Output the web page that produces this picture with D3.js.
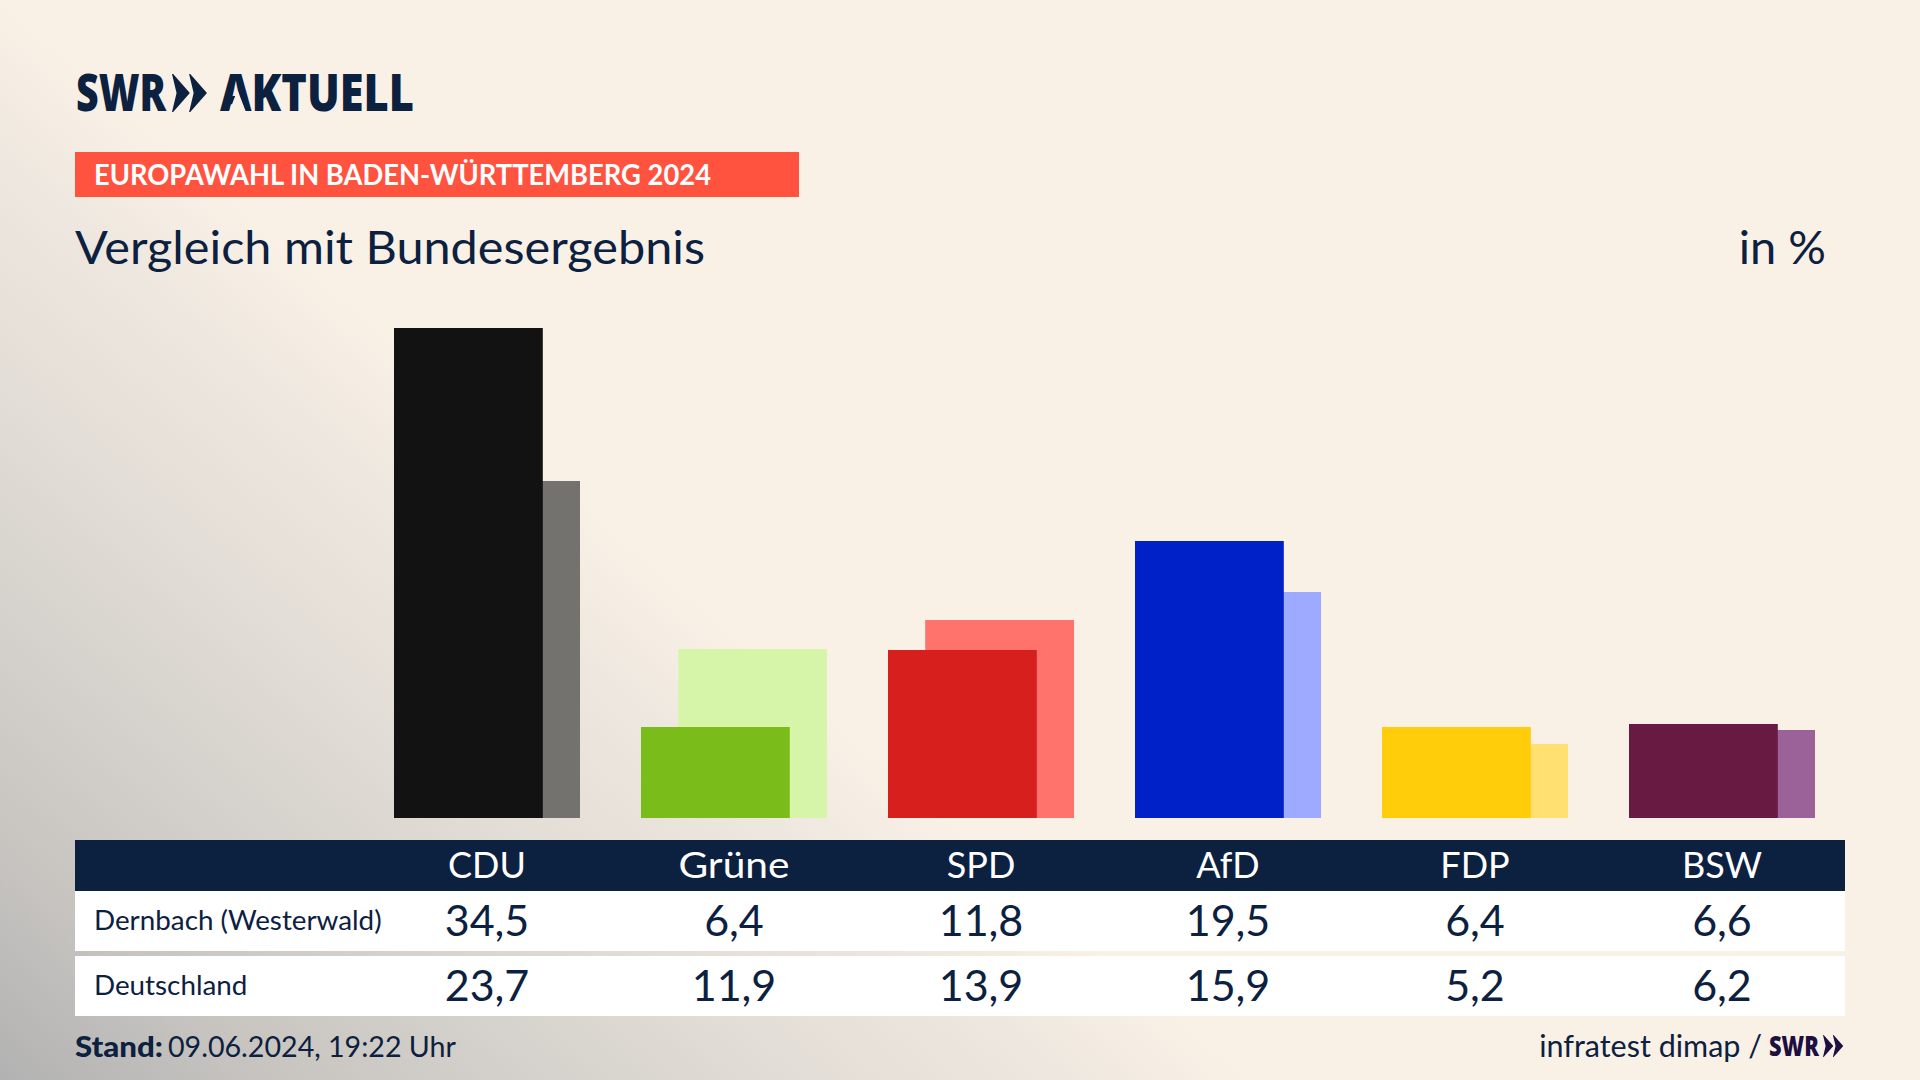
<!DOCTYPE html>
<html>
<head>
<meta charset="utf-8">
<script src="https://cdn.jsdelivr.net/npm/d3@7"></script>
<style>
  html, body { margin: 0; padding: 0; background: #f9f1e6; }
  svg { display: block; }
  text { font-family: Lato, "Noto Sans", sans-serif; fill: #0c203f; }
</style>
</head>
<body>
<div id="graph"></div>
<script>
const parties = ['CDU', 'Grüne', 'SPD', 'AfD', 'FDP', 'BSW'];
const dernbach = [34.5, 6.4, 11.8, 19.5, 6.4, 6.6];
const deutschland = [23.7, 11.9, 13.9, 15.9, 5.2, 6.2];
const rowNames = ['Dernbach (Westerwald)', 'Deutschland'];
const mainColors = ['#121212', '#7abd1a', '#d71f1d', '#0021c8', '#ffcd0a', '#691a42'];
const lightColors = ['#73726f', '#d6f5a8', '#ff736c', '#9daaff', '#ffe070', '#9b6199'];

const w = 1920;
const h = 1080;
const navy = '#0c203f';
const logoFont = '"Noto Sans", Lato, sans-serif';

const svg = d3.select('#graph').append('svg').attr('width', w).attr('height', h);

// background, diagonal fade from the lower left corner
const bg = svg.append('defs').append('linearGradient').attr('id', 'bg')
  .attr('gradientUnits', 'userSpaceOnUse')
  .attr('x1', 0).attr('y1', 1080).attr('x2', 534).attr('y2', 461.5);
[[0, '#b2b2b2'], [0.23, '#c8c5c1'], [0.42, '#d4d0cb'], [0.62, '#e1dcd5'], [0.85, '#eee7df'], [1, '#f9f1e6']]
  .forEach(s => bg.append('stop').attr('offset', s[0]).attr('stop-color', s[1]));
svg.append('rect').attr('width', w).attr('height', h).attr('fill', 'url(#bg)');

// the two arrows of the SWR logo
const chevrons = (g, x, y, s) => {
  [0, 0.45].forEach(o => {
    const x0 = x + o * s;
    g.append('path')
      .attr('d', `M${x0},${y} L${x0 + 0.03 * s},${y} L${x0 + 0.47 * s},${y + 0.5 * s} L${x0 + 0.03 * s},${y + s} L${x0},${y + s} L${x0 + 0.12 * s},${y + 0.5 * s} Z`);
  });
};

// header
svg.append('text').attr('x', 76).attr('y', 111).attr('font-size', 51).attr('font-weight', 900)
  .attr('textLength', 90).attr('lengthAdjust', 'spacingAndGlyphs')
  .style('font-family', logoFont).text('SWR');
chevrons(svg.append('g').attr('fill', navy), 172, 74, 38);
svg.append('text').attr('x', 220).attr('y', 111).attr('font-size', 51).attr('font-weight', 900)
  .attr('textLength', 194).attr('lengthAdjust', 'spacingAndGlyphs')
  .style('font-family', logoFont).text('AKTUELL');
// logo A has no crossbar
svg.append('path').attr('d', 'M237.5,90 L229,112 L246,112 Z').attr('fill', '#f9f1e6');

svg.append('rect').attr('x', 75).attr('y', 152).attr('width', 724).attr('height', 45).attr('fill', '#ff523f');
svg.append('text').attr('x', 94).attr('y', 185).attr('font-size', 28).attr('font-weight', 700)
  .attr('textLength', 617).attr('lengthAdjust', 'spacingAndGlyphs')
  .style('fill', '#fff').text('EUROPAWAHL IN BADEN-WÜRTTEMBERG 2024');
svg.append('text').attr('x', 75).attr('y', 264).attr('font-size', 47)
  .attr('textLength', 630).attr('lengthAdjust', 'spacingAndGlyphs').text('Vergleich mit Bundesergebnis');
svg.append('text').attr('x', 1826).attr('y', 264).attr('font-size', 47).attr('text-anchor', 'end').text('in %');

// bars
const x = d3.scaleBand().domain(parties).range([394, 1815]).paddingInner(0.247);
const y = d3.scaleLinear().domain([0, d3.max(dernbach)]).rangeRound([818, 327.5]);
const barW = x.bandwidth() * 0.8;
const idx = d => parties.indexOf(d);

svg.append('g').selectAll('rect').data(parties).enter().append('rect')
  .attr('x', d => x(d) + x.bandwidth() - barW)
  .attr('y', d => y(deutschland[idx(d)]))
  .attr('width', barW)
  .attr('height', d => y(0) - y(deutschland[idx(d)]))
  .attr('fill', d => lightColors[idx(d)]);

svg.append('g').selectAll('rect').data(parties).enter().append('rect')
  .attr('x', d => x(d))
  .attr('y', d => y(dernbach[idx(d)]))
  .attr('width', barW)
  .attr('height', d => y(0) - y(dernbach[idx(d)]))
  .attr('fill', d => mainColors[idx(d)]);

// table
svg.append('rect').attr('x', 75).attr('y', 840).attr('width', 1770).attr('height', 51).attr('fill', navy);
const axis = svg.append('g').attr('transform', 'translate(0,865)')
  .call(d3.axisBottom(x).tickSize(0).tickPadding(0));
axis.select('.domain').remove();
axis.selectAll('text')
  .attr('dy', '0.36em').attr('y', 0)
  .style('font-size', '36px').style('font-family', 'Lato, "Noto Sans", sans-serif').style('fill', '#fff');
axis.selectAll('text').filter(d => d === 'Grüne')
  .attr('textLength', 111).attr('lengthAdjust', 'spacingAndGlyphs');

const fmt = d3.formatLocale({ decimal: ',', thousands: '.', grouping: [3], currency: ['', ''] }).format('.1f');
const rows = [
  { name: rowNames[0], values: dernbach, top: 891, height: 60 },
  { name: rowNames[1], values: deutschland, top: 956, height: 60 }
];
rows.forEach(r => {
  svg.append('rect').attr('x', 75).attr('y', r.top).attr('width', 1770).attr('height', r.height).attr('fill', '#fff');
  svg.append('text').attr('x', 94).attr('y', r.top + r.height / 2 + 9).attr('font-size', 27.8).text(r.name);
  svg.append('g').selectAll('text').data(r.values).enter().append('text')
    .attr('x', (d, i) => x(parties[i]) + x.bandwidth() / 2)
    .attr('y', r.top + r.height / 2 + 15)
    .attr('text-anchor', 'middle')
    .attr('font-size', 43)
    .text(d => fmt(d));
});

// footer
svg.append('text').attr('x', 75).attr('y', 1057).attr('font-size', 29).attr('font-weight', 900)
  .attr('textLength', 88).attr('lengthAdjust', 'spacingAndGlyphs').text('Stand:');
svg.append('text').attr('x', 168).attr('y', 1057).attr('font-size', 29)
  .attr('textLength', 288).attr('lengthAdjust', 'spacingAndGlyphs').text('09.06.2024, 19:22 Uhr');
svg.append('text').attr('x', 1762).attr('y', 1057).attr('font-size', 30.5).attr('text-anchor', 'end').text('infratest dimap /');
svg.append('text').attr('x', 1769).attr('y', 1056).attr('font-size', 28).attr('font-weight', 900)
  .attr('textLength', 50).attr('lengthAdjust', 'spacingAndGlyphs')
  .style('font-family', logoFont).style('fill', '#1d0f3f').text('SWR');
chevrons(svg.append('g').attr('fill', '#1d0f3f'), 1823, 1035, 22);
</script>
</body>
</html>
